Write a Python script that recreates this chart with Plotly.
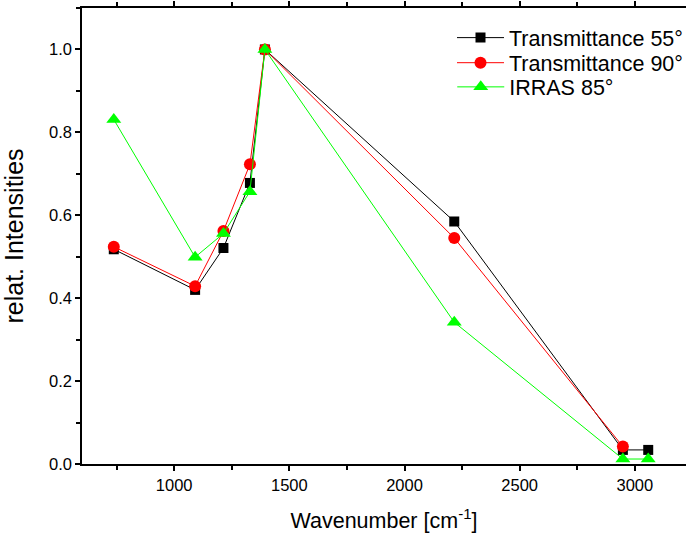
import plotly.graph_objects as go

wn_black = [738, 1091, 1214, 1329, 1394, 2216, 2948, 3058]
t55 = [0.518, 0.420, 0.521, 0.678, 1.0, 0.585, 0.034, 0.034]

wn_red = [738, 1091, 1214, 1329, 1394, 2216, 2948]
t90 = [0.524, 0.429, 0.562, 0.723, 1.0, 0.545, 0.042]

wn_green = [738, 1091, 1214, 1329, 1394, 2216, 2948, 3058]
irras85 = [0.831, 0.499, 0.556, 0.657, 1.0, 0.342, 0.012, 0.012]

names = ["Transmittance 55°", "Transmittance 90°", "IRRAS 85°"]
FONT = "Liberation Sans, Arial, sans-serif"

fig = go.Figure()
fig.add_trace(go.Scatter(x=wn_black, y=t55, name=names[0], mode="lines+markers",
                         line=dict(color="black", width=1),
                         marker=dict(symbol="square", size=10, color="black"),
                         cliponaxis=False, legend="legend"))
fig.add_trace(go.Scatter(x=wn_red, y=t90, name=names[1], mode="lines+markers",
                         line=dict(color="#ff0000", width=1),
                         marker=dict(symbol="circle", size=12, color="#ff0000"),
                         cliponaxis=False, legend="legend2"))
fig.add_trace(go.Scatter(x=wn_green, y=irras85, name=names[2], mode="lines+markers",
                         line=dict(color="#00ff00", width=1),
                         marker=dict(symbol="triangle-up", size=13, color="#00ff00"),
                         cliponaxis=False, legend="legend3"))

leg = dict(x=0.613, xanchor="left", yanchor="middle",
           font=dict(size=21.5, family=FONT), bgcolor="rgba(0,0,0,0)", itemwidth=47)

fig.update_layout(
    width=688, height=541,
    margin=dict(l=82, r=0, t=8, b=77),
    paper_bgcolor="white", plot_bgcolor="white",
    font=dict(family=FONT, color="black", size=16),
    showlegend=True,
    legend=dict(leg, y=0.935),
    legend2=dict(leg, y=0.880),
    legend3=dict(leg, y=0.827),
)
fig.update_xaxes(
    range=[600, 3222], tick0=1000, dtick=500, tickformat="d",
    automargin=False,
    showgrid=False, zeroline=False,
    showline=True, linecolor="black", linewidth=1.6, mirror="ticks",
    ticks="outside", ticklen=5, tickwidth=1.6, tickcolor="black",
    minor=dict(dtick=250, tick0=1000, ticks="outside", ticklen=4, tickwidth=1.6,
               tickcolor="black", showgrid=False),
    tickfont=dict(size=16.5),
    title=dict(text="Wavenumber [cm<sup>-1</sup>]", font=dict(size=21.5), standoff=20),
)
fig.update_yaxes(
    range=[0, 1.1], tick0=0, dtick=0.2, tickformat=".1f",
    automargin=False,
    showgrid=False, zeroline=False,
    showline=True, linecolor="black", linewidth=1.6, mirror=False,
    ticks="outside", ticklen=5, tickwidth=1.6, tickcolor="black",
    minor=dict(dtick=0.1, ticks="outside", ticklen=4, tickwidth=1.6,
               tickcolor="black", showgrid=False),
    tickfont=dict(size=16.5),
    title=dict(text="relat. Intensities", font=dict(size=25), standoff=20),
)

fig.write_html("out.html", config={"displayModeBar": False},
               post_script="document.body.style.margin='0px';document.body.style.overflow='hidden';")
